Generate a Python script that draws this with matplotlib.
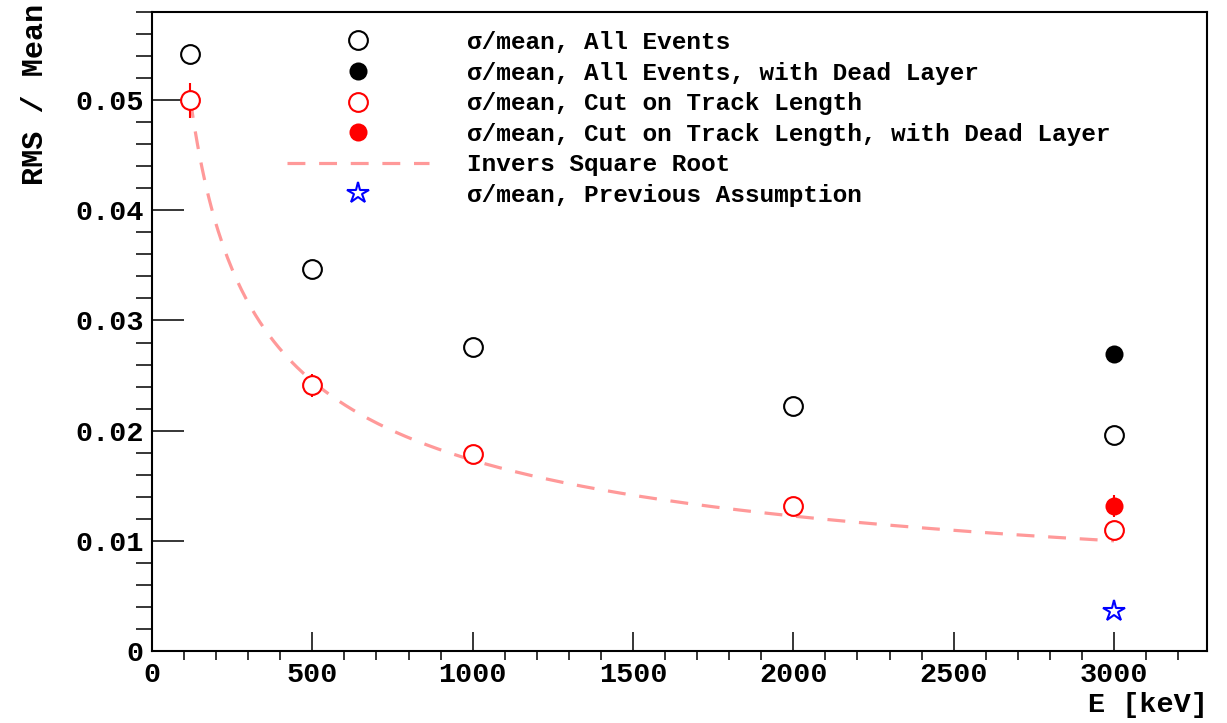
import numpy as np
import matplotlib
matplotlib.use('Agg')
import matplotlib.pyplot as plt
from matplotlib.lines import Line2D
from matplotlib.ticker import MultipleLocator, FuncFormatter

# Data

energy = [120, 500, 1000, 2000, 3000]           # keV
all_events = [0.0542, 0.0347, 0.0276, 0.0222, 0.0196]
cut_track = [0.0500, 0.0241, 0.0179, 0.0132, 0.0110]
cut_track_err = [0.0016, 0.0010, 0.0005, 0.0004, 0.0004]

dead_energy = [3000]
all_events_dead = [0.0270]
cut_track_dead = [0.0132]
cut_track_dead_err = [0.0010]

prev_energy = [3000]
prev_assumption = [0.0036]

# inverse square root curve  a / sqrt(E)
inv_sqrt_a = 0.5477
curve_range = (120, 3000)

font = 'Liberation Mono'
plt.rcParams['font.family'] = [font, 'DejaVu Sans']
plt.rcParams['font.weight'] = 'bold'

fig = plt.figure(figsize=(12.27, 7.23), dpi=100)
ax = fig.add_axes([152/1227, 1 - 651/723, 1055/1227, 639/723])

# Curve
e_curve = np.linspace(curve_range[0], curve_range[1], 400)
curve_col = (1.0, 0.6, 0.6)
ax.plot(e_curve, inv_sqrt_a / np.sqrt(e_curve), color=curve_col, lw=2.3,
        linestyle=(0, (5.6, 4.3)), zorder=2)

# Points
ax.plot(energy, all_events, 'o', ms=13.5, mfc='none', mec='black', mew=1.5, zorder=4)
ax.plot(dead_energy, all_events_dead, 'o', ms=13, mfc='black', mec='black', mew=0, zorder=4)
ax.errorbar(energy, cut_track, yerr=cut_track_err, fmt='o', ms=13.5, mfc='white',
            mec='red', mew=1.5, ecolor='red', elinewidth=1.5, capsize=0, zorder=4)
ax.errorbar(dead_energy, cut_track_dead, yerr=cut_track_dead_err, fmt='o', ms=13,
            mfc='red', mec='red', mew=0, ecolor='red', elinewidth=1.5, capsize=0, zorder=4)
ax.plot(prev_energy, prev_assumption, '*', ms=16, mfc='white', mec='blue', mew=1.5, zorder=4)

# Axes
ax.set_xlim(0, 3290)
ax.set_ylim(0, 0.058)
ax.xaxis.set_major_locator(MultipleLocator(500))
ax.xaxis.set_minor_locator(MultipleLocator(100))
ax.yaxis.set_major_locator(MultipleLocator(0.01))
ax.yaxis.set_minor_locator(MultipleLocator(0.002))
ax.yaxis.set_major_formatter(FuncFormatter(lambda v, p: '0' if abs(v) < 1e-9 else f'{v:.2f}'))
ax.xaxis.set_major_formatter(FuncFormatter(lambda v, p: f'{v:.0f}'))

ax.tick_params(direction='in', top=False, right=False, labelsize=20.5, width=1.1)
ax.tick_params(axis='x', which='major', length=13.7, pad=8)
ax.tick_params(axis='x', which='minor', length=6.5, width=1.1)
ax.tick_params(axis='y', which='major', length=23, pad=6)
ax.tick_params(axis='y', which='minor', length=11.5, width=1.1)
for lab in ax.get_xticklabels() + ax.get_yticklabels():
    lab.set_fontweight('bold')
for s in ax.spines.values():
    s.set_linewidth(1.5)

fig.text(35/1227, 1 - 4/723, 'RMS / Mean', rotation=90, ha='center', va='top',
         fontsize=21.7, fontweight='bold')
fig.text(1208/1227, 1 - 705/723, 'E [keV]', ha='right', va='center',
         fontsize=20.5, fontweight='bold')

# Legend
handles = [
    Line2D([], [], ls='none', marker='o', ms=13.5, mfc='none', mec='black', mew=1.5),
    Line2D([], [], ls='none', marker='o', ms=13, mfc='black', mec='black', mew=0),
    Line2D([], [], ls='none', marker='o', ms=13.5, mfc='none', mec='red', mew=1.5),
    Line2D([], [], ls='none', marker='o', ms=13, mfc='red', mec='red', mew=0),
    Line2D([], [], color=curve_col, lw=2.3, linestyle=(0, (5.6, 4.3))),
    Line2D([], [], ls='none', marker='*', ms=16, mfc='white', mec='blue', mew=1.5),
]
labels = [
    'σ/mean, All Events',
    'σ/mean, All Events, with Dead Layer',
    'σ/mean, Cut on Track Length',
    'σ/mean, Cut on Track Length, with Dead Layer',
    'Invers Square Root',
    'σ/mean, Previous Assumption',
]
ax.legend(handles, labels, loc='upper left', bbox_to_anchor=(287/1227, 1 - 31/723),
          bbox_transform=fig.transFigure, frameon=False, borderpad=0, borderaxespad=0,
          handlelength=5.8, handletextpad=1.55, labelspacing=0.31,
          prop={'family': font, 'weight': 'bold', 'size': 17.6})

fig.savefig('out.png', dpi=100)
